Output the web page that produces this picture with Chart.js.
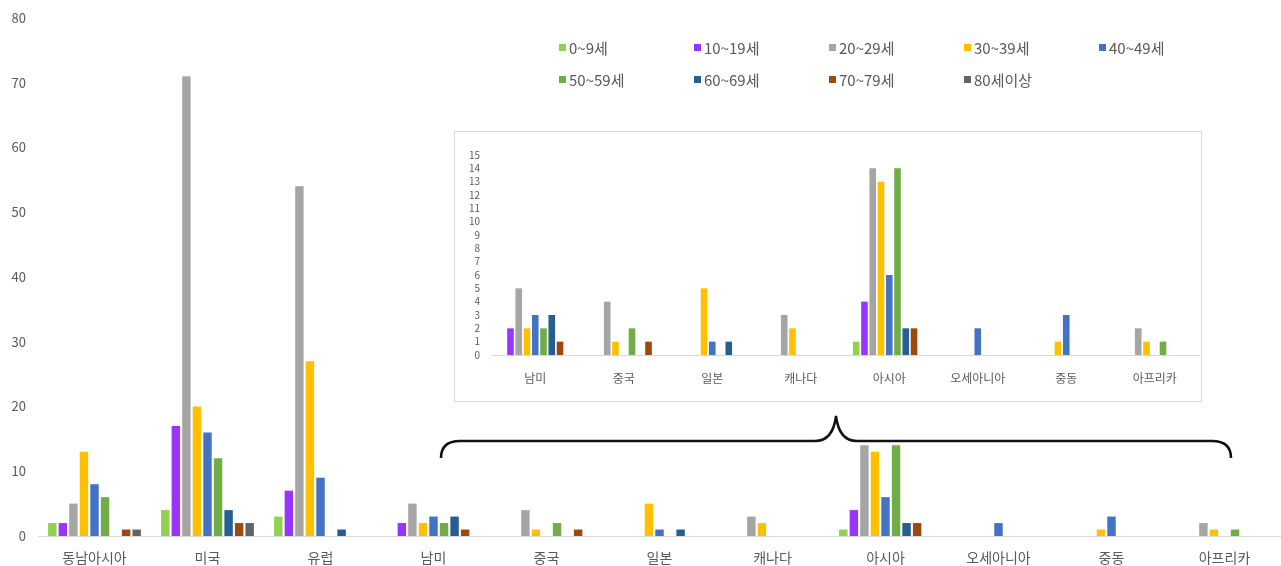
<!DOCTYPE html>
<html lang="ko">
<head>
<meta charset="utf-8">
<script src="https://cdn.jsdelivr.net/npm/chart.js@4.4.1/dist/chart.umd.min.js"></script>
<style>
    body { margin: 0; background: #fff; font-family: 'Noto Sans CJK KR', 'Noto Sans', sans-serif; }
    #wrap { position: relative; width: 1281px; height: 566px; overflow: hidden; }
    #main-box { position: absolute; left: 0; top: 0; width: 1281px; height: 566px; }
    #inset-box { position: absolute; left: 454px; top: 131px; width: 746px; height: 269px;
        border: 1px solid #d9d9d9; background: #fff; }
    #legend { position: absolute; left: 559px; top: 31px; display: grid;
        grid-template-columns: repeat(5, 135px); grid-auto-rows: 32px; }
    .item { display: flex; align-items: center; font-size: 15px; color: #595959; white-space: nowrap; }
    .item i { display: inline-block; width: 7px; height: 7px; margin-right: 3px; }
    #brace { position: absolute; left: 0; top: 0; }
</style>
</head>
<body>
<div id="wrap">
    <div id="main-box"><canvas id="main-chart"></canvas></div>
    <div id="inset-box"><canvas id="inset-chart"></canvas></div>
    <svg id="brace" width="1281" height="566">
        <path d="M441 458 Q441 441 460 441 L815 441 Q833 441 836 416 Q839 441 857 441 L1212 441 Q1231 441 1231 458"
              fill="none" stroke="#111" stroke-width="2.5"/>
    </svg>
    <div id="legend"></div>
</div>
<script>
// regions (x axis)
const regions = ['동남아시아', '미국', '유럽', '남미', '중국', '일본', '캐나다', '아시아', '오세아니아', '중동', '아프리카'];
// age groups (series)
const ageGroups = ['0~9세', '10~19세', '20~29세', '30~39세', '40~49세', '50~59세', '60~69세', '70~79세', '80세이상'];
const ageColors = ['#92d050', '#9933ff', '#a5a5a5', '#ffc000', '#4472c4', '#70ad47', '#255e91', '#9e480e', '#636363'];

// counts per age group, one value per region
const age0 = [2, 4, 3, 0, 0, 0, 0, 1, 0, 0, 0];
const age10 = [2, 17, 7, 2, 0, 0, 0, 4, 0, 0, 0];
const age20 = [5, 71, 54, 5, 4, 0, 3, 14, 0, 0, 2];
const age30 = [13, 20, 27, 2, 1, 5, 2, 13, 0, 1, 1];
const age40 = [8, 16, 9, 3, 0, 1, 0, 6, 2, 3, 0];
const age50 = [6, 12, 0, 2, 2, 0, 0, 14, 0, 0, 1];
const age60 = [0, 4, 1, 3, 0, 1, 0, 2, 0, 0, 0];
const age70 = [1, 2, 0, 1, 1, 0, 0, 2, 0, 0, 0];
const age80 = [1, 2, 0, 0, 0, 0, 0, 0, 0, 0, 0];
const seriesValues = [age0, age10, age20, age30, age40, age50, age60, age70, age80];

// inset zooms into the small regions
const insetStart = 3;
const mainTicks = { min: 0, max: 80, step: 10 };
const insetTicks = { min: 0, max: 15, step: 1 };

const labelColor = '#595959';
const font = 'Noto Sans CJK KR';

function buildDatasets(from) {
    return ageGroups.map((name, i) => ({
        label: name,
        data: seriesValues[i].slice(from),
        backgroundColor: ageColors[i],
        borderWidth: 0,
        barPercentage: 0.8,
        categoryPercentage: 0.84
    }));
}

// legend
const legend = document.getElementById('legend');
ageGroups.forEach((name, i) => {
    const el = document.createElement('div');
    el.className = 'item';
    el.innerHTML = `<i style="background:${ageColors[i]}"></i>${name}`;
    legend.appendChild(el);
});

Chart.defaults.animation = false;
Chart.defaults.font.family = font;

// main chart
new Chart(document.getElementById('main-chart'), {
    type: 'bar',
    data: { labels: regions, datasets: buildDatasets(0) },
    options: {
        responsive: true,
        maintainAspectRatio: false,
        layout: { padding: { top: 18, right: 0, left: 0, bottom: 0 } },
        plugins: { legend: { display: false }, tooltip: { enabled: false } },
        scales: {
            x: {
                grid: { display: false },
                border: { color: '#d9d9d9' },
                ticks: { color: labelColor, font: { size: 14 }, padding: 5 },
                afterFit: scale => { scale.height = 30; }
            },
            y: {
                min: mainTicks.min, max: mainTicks.max,
                grid: { display: false },
                border: { display: false },
                ticks: { stepSize: mainTicks.step, color: labelColor, font: { size: 13 }, padding: 4 },
                afterFit: scale => { scale.width = 38; }
            }
        }
    }
});

// inset chart
new Chart(document.getElementById('inset-chart'), {
    type: 'bar',
    data: { labels: regions.slice(insetStart), datasets: buildDatasets(insetStart) },
    options: {
        responsive: true,
        maintainAspectRatio: false,
        layout: { padding: { top: 23, right: 2, left: 0, bottom: 16 } },
        plugins: { legend: { display: false }, tooltip: { enabled: false } },
        scales: {
            x: {
                grid: { display: false },
                border: { color: '#d9d9d9' },
                ticks: { color: labelColor, font: { size: 12 }, padding: 8 },
                afterFit: scale => { scale.height = 30; }
            },
            y: {
                min: insetTicks.min, max: insetTicks.max,
                grid: { display: false },
                border: { display: false },
                ticks: { stepSize: insetTicks.step, autoSkip: false, color: labelColor, font: { size: 10 }, padding: 3 },
                afterFit: scale => { scale.width = 36; }
            }
        }
    }
});
</script>
</body>
</html>
